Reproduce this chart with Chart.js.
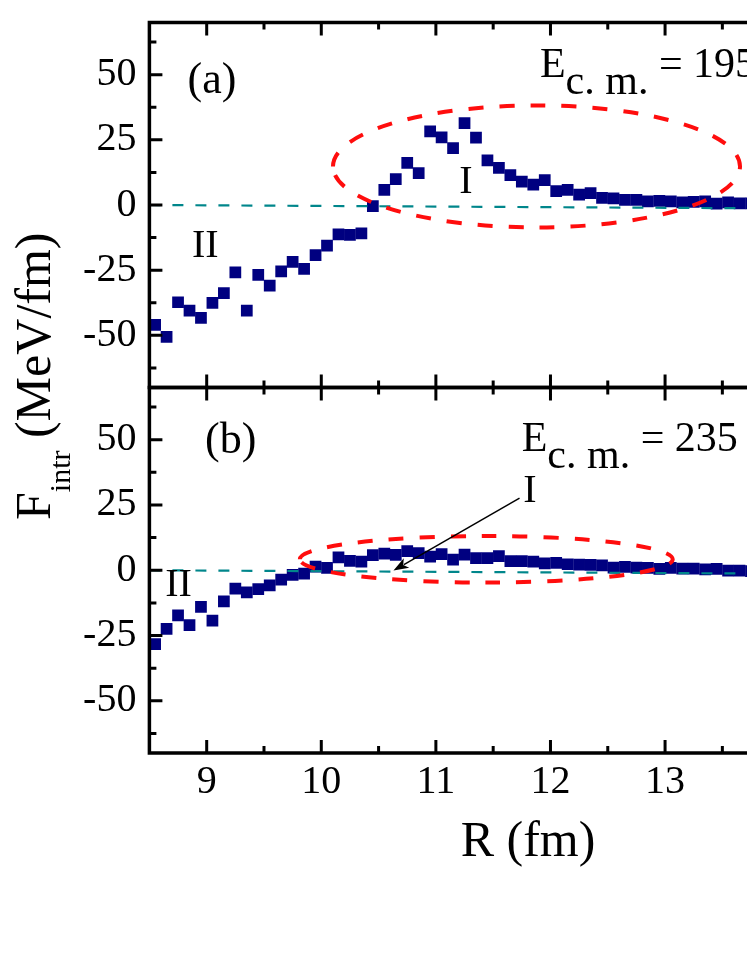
<!DOCTYPE html>
<html><head><meta charset="utf-8">
<script src="https://cdn.jsdelivr.net/npm/chart.js@4.4.1/dist/chart.umd.min.js"></script>
<style>
html,body{margin:0;padding:0;background:#fff;overflow:hidden;}
#wrap{position:relative;width:747px;height:967px;background:#fff;}
canvas{position:absolute;left:0;top:0;}
</style></head><body>
<div id="wrap"><canvas id="ca" width="747" height="967"></canvas><canvas id="cb" width="747" height="967"></canvas></div>
<script>
// ---------- data ----------
const rValues = [8.55,8.65,8.75,8.85,8.95,9.05,9.15,9.25,9.35,9.45,9.55,9.65,9.75,9.85,9.95,
  10.05,10.15,10.25,10.35,10.45,10.55,10.65,10.75,10.85,10.95,11.05,11.15,11.25,11.35,11.45,
  11.55,11.65,11.75,11.85,11.95,12.05,12.15,12.25,12.35,12.45,12.55,12.65,12.75,12.85,12.95,
  13.05,13.15,13.25,13.35,13.45,13.55,13.65,13.75];
const forceA = [-46.0,-50.6,-37.3,-40.5,-43.3,-37.5,-33.8,-25.8,-40.5,-26.8,-30.9,-25.5,-21.8,-24.5,-19.2,
  -15.6,-11.3,-11.5,-10.9,-0.4,5.8,9.9,16.2,12.2,28.2,25.9,21.8,31.4,25.8,17.1,
  14.2,11.5,9.0,7.8,9.5,5.3,5.8,4.0,4.6,2.7,2.5,2.0,2.0,1.4,1.6,
  1.4,1.0,1.2,1.4,0.5,1.0,0.6,0.6];
const forceB = [-28.3,-22.5,-17.3,-21.0,-14.0,-19.3,-11.9,-7.0,-8.5,-7.2,-5.8,-3.6,-1.8,-1.3,1.4,
  0.9,4.9,3.6,3.3,5.8,6.4,5.9,7.3,6.6,5.2,6.2,4.1,6.0,4.6,4.6,
  5.4,3.5,3.5,3.3,2.6,2.8,2.3,2.2,2.1,1.9,1.0,1.3,1.0,0.9,0.5,
  0.9,0.6,0.6,0.3,0.5,-0.1,-0.1,-0.3];
const zeroLineR = [8.5, 13.715];
const zeroLineF = [0, -1.25];
const xTicks = [9, 10, 11, 12, 13];
const yTicks = [-50, -25, 0, 25, 50];
const xMin = 8.5, xMax = 13.715;
const yMin = -70, yMax = 70;
const energyA = '= 195 MeV';
const energyB = '= 235 MeV';
// annotation ellipses (data units)
const ellipseA = {cx: 11.878, cy: 14.8, rx: 1.776, ry: 23.4};
const ellipseB = {cx: 11.44, cy: 4.2, rx: 1.627, ry: 8.9};
const arrowB = {x0: 11.73, y0: 27.6, x1: 10.63, y1: -0.1};

// ---------- drawing ----------
const FONT = "'Liberation Serif','Times New Roman',serif";
const NAVY = '#000080';
const TEAL = '#00868b';
const RED = '#ff0d0d';

function minorOf(arr, lo, hi){
  const out = [];
  const step = arr[1] - arr[0];
  out.push(arr[0] - step/2);
  for (let i = 0; i < arr.length - 1; i++) out.push((arr[i] + arr[i+1]) / 2);
  out.push(arr[arr.length-1] + step/2);
  return out.filter(v => v > lo && v < hi);
}

function makePlugin(cfg){
  return {
    id: 'deco' + cfg.id,
    afterDatasetsDraw(chart){
      const ctx = chart.ctx, xs = chart.scales.x, ys = chart.scales.y, a = chart.chartArea;
      ctx.save();
      // ellipse
      const e = cfg.ellipse;
      const cx = xs.getPixelForValue(e.cx), cy = ys.getPixelForValue(e.cy);
      const rx = xs.getPixelForValue(e.cx + e.rx) - cx;
      const ry = cy - ys.getPixelForValue(e.cy + e.ry);
      ctx.beginPath();
      ctx.setLineDash([15, 16]);
      ctx.lineWidth = 4;
      ctx.strokeStyle = RED;
      ctx.ellipse(cx, cy, rx, ry, 0, Math.PI, 3*Math.PI);
      ctx.stroke();
      ctx.setLineDash([]);
      // arrow
      if (cfg.arrow){
        const r = cfg.arrow;
        const x0 = xs.getPixelForValue(r.x0), y0 = ys.getPixelForValue(r.y0);
        const x1 = xs.getPixelForValue(r.x1), y1 = ys.getPixelForValue(r.y1);
        const ang = Math.atan2(y1 - y0, x1 - x0);
        const hl = 15, hw = 5.5;
        ctx.strokeStyle = '#000'; ctx.lineWidth = 1.5;
        ctx.beginPath(); ctx.moveTo(x0, y0);
        ctx.lineTo(x1 - Math.cos(ang)*hl*0.8, y1 - Math.sin(ang)*hl*0.8); ctx.stroke();
        ctx.fillStyle = '#000';
        ctx.beginPath();
        ctx.moveTo(x1, y1);
        ctx.lineTo(x1 - Math.cos(ang)*hl - Math.sin(ang)*hw, y1 - Math.sin(ang)*hl + Math.cos(ang)*hw);
        ctx.lineTo(x1 - Math.cos(ang)*hl*0.75, y1 - Math.sin(ang)*hl*0.75);
        ctx.lineTo(x1 - Math.cos(ang)*hl + Math.sin(ang)*hw, y1 - Math.sin(ang)*hl - Math.cos(ang)*hw);
        ctx.closePath(); ctx.fill();
      }
      // text labels
      ctx.fillStyle = '#000';
      ctx.textAlign = 'center'; ctx.textBaseline = 'middle';
      cfg.labels.forEach(l => {
        ctx.font = l.size + 'px ' + FONT;
        ctx.fillText(l.text, xs.getPixelForValue(l.x), ys.getPixelForValue(l.y));
      });
      // energy label
      const en = cfg.energy;
      let px = xs.getPixelForValue(en.x), py = ys.getPixelForValue(en.y);
      ctx.textAlign = 'left'; ctx.textBaseline = 'alphabetic';
      ctx.font = '42px ' + FONT;
      ctx.fillText('E', px, py);
      px += ctx.measureText('E').width;
      ctx.fillText('c. m.', px, py + 17);
      px += ctx.measureText('c. m.').width;
      ctx.fillText(' ' + en.text, px, py);
      // frame
      ctx.strokeStyle = '#000'; ctx.lineWidth = 3.5; ctx.lineCap = 'butt';
      ctx.beginPath();
      ctx.moveTo(a.left - 1.75, a.top); ctx.lineTo(chart.width + 5, a.top);
      ctx.moveTo(a.left - 1.75, a.bottom); ctx.lineTo(chart.width + 5, a.bottom);
      ctx.moveTo(a.left, a.top); ctx.lineTo(a.left, a.bottom);
      ctx.stroke();
      // inward ticks
      ctx.lineWidth = 3;
      ctx.beginPath();
      yTicks.forEach(v => { const p = ys.getPixelForValue(v); ctx.moveTo(a.left, p); ctx.lineTo(a.left + 13, p); });
      minorOf(yTicks, yMin, yMax).forEach(v => { const p = ys.getPixelForValue(v); ctx.moveTo(a.left, p); ctx.lineTo(a.left + 7, p); });
      xTicks.forEach(v => { const p = xs.getPixelForValue(v);
        ctx.moveTo(p, a.top); ctx.lineTo(p, a.top + 13); ctx.moveTo(p, a.bottom); ctx.lineTo(p, a.bottom - 13); });
      minorOf(xTicks, xMin, xMax + 1).forEach(v => { const p = xs.getPixelForValue(v);
        ctx.moveTo(p, a.top); ctx.lineTo(p, a.top + 7); ctx.moveTo(p, a.bottom); ctx.lineTo(p, a.bottom - 7); });
      ctx.stroke();
      ctx.restore();
    },
    afterDraw(chart){
      if (!cfg.titles) return;
      const ctx = chart.ctx;
      ctx.save();
      ctx.fillStyle = '#000';
      // x title
      ctx.font = '50px ' + FONT;
      ctx.textAlign = 'center'; ctx.textBaseline = 'alphabetic';
      ctx.fillText('R (fm)', 528, 856);
      // y title (rotated, with subscript)
      ctx.translate(50, 520);
      ctx.rotate(-Math.PI / 2);
      ctx.textAlign = 'left';
      ctx.font = '50px ' + FONT;
      ctx.fillText('F', 0, 0);
      let w = ctx.measureText('F').width;
      ctx.font = '30px ' + FONT;
      ctx.fillText('intr', w, 20);
      w += ctx.measureText('intr').width;
      ctx.font = '50px ' + FONT;
      ctx.fillText(' (MeV/fm)', w, 0);
      ctx.restore();
    }
  };
}

function pts(ys){ return rValues.map((r, i) => ({x: r, y: ys[i]})); }
function zeroPts(){ return zeroLineR.map((r, i) => ({x: r, y: zeroLineF[i]})); }

function makeChart(canvasId, series, padTop, padBottom, showX, cfg){
  return new Chart(document.getElementById(canvasId), {
    type: 'scatter',
    data: { datasets: [
      { type: 'line', data: zeroPts(), borderColor: TEAL, borderWidth: 2.2, borderDash: [11, 12],
        pointRadius: 0, fill: false, tension: 0 },
      { data: pts(series), pointStyle: 'rect', pointRadius: 8.3, pointBorderWidth: 0,
        backgroundColor: NAVY, borderColor: NAVY, showLine: false }
    ]},
    options: {
      responsive: false, animation: false, devicePixelRatio: 1,
      layout: { autoPadding: false, padding: { top: padTop, bottom: padBottom, left: 0, right: 0 } },
      plugins: { legend: { display: false }, tooltip: { enabled: false } },
      scales: {
        x: {
          type: 'linear', min: xMin, max: xMax, display: showX,
          grid: { display: false, drawTicks: false }, border: { display: false },
          afterBuildTicks: s => { s.ticks = xTicks.map(v => ({value: v})); },
          afterFit: s => { s.height = showX ? 60 : 0; s.paddingLeft = 0; s.paddingRight = 0; },
          ticks: { color: '#000', font: { family: FONT, size: 40, lineHeight: 1 }, padding: 9, maxRotation: 0, autoSkip: false,
            callback: v => String(v) }
        },
        y: {
          type: 'linear', min: yMin, max: yMax,
          grid: { display: false, drawTicks: true, tickLength: 13 }, border: { display: false },
          afterBuildTicks: s => { s.ticks = yTicks.map(v => ({value: v})); },
          afterFit: s => { s.width = 149.4; s.paddingTop = 0; s.paddingBottom = 0; },
          ticks: { color: '#000', font: { family: FONT, size: 40, lineHeight: 1 }, padding: 0, autoSkip: false,
            callback: v => String(v) }
        }
      }
    },
    plugins: [makePlugin(cfg)]
  });
}

makeChart('ca', forceA, 22.5, 967 - 387.5, false, {
  id: 'a', ellipse: ellipseA,
  labels: [
    {text: '(a)', x: 9.046, y: 47.4, size: 44},
    {text: 'II', x: 8.987, y: -15.8, size: 40},
    {text: 'I', x: 11.263, y: 8.7, size: 40}
  ],
  energy: {x: 11.908, y: 49.0, text: energyA}
});
makeChart('cb', forceB, 387.5, 967 - 753 - 60, true, {
  id: 'b', ellipse: ellipseB, arrow: arrowB, titles: true,
  labels: [
    {text: '(b)', x: 9.21, y: 49.5, size: 44},
    {text: 'II', x: 8.754, y: -6.0, size: 40},
    {text: 'I', x: 11.82, y: 30.1, size: 40}
  ],
  energy: {x: 11.749, y: 45.6, text: energyB}
});
</script>
</body></html>
